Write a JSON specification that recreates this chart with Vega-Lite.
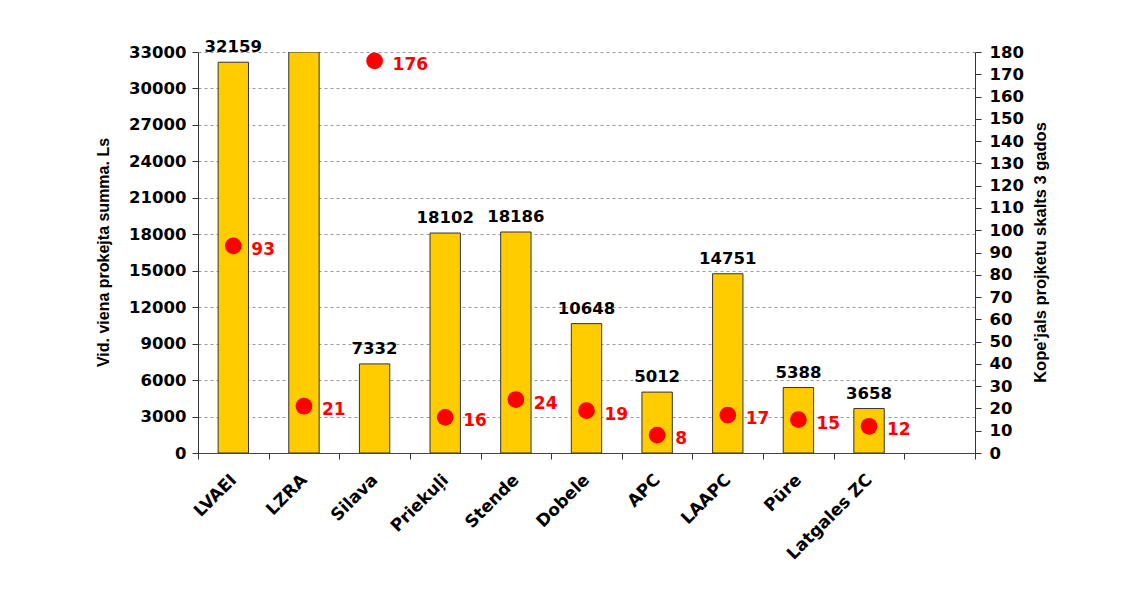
{
  "$schema": "https://vega.github.io/schema/vega-lite/v6.json",
  "width": 777,
  "height": 401,
  "autosize": {"type": "none"},
  "padding": {"left": 198, "top": 52, "right": 160, "bottom": 137},
  "background": "white",
  "config": {
    "font": "DejaVu Sans",
    "view": {"stroke": null},
    "axis": {
      "labelFont": "DejaVu Sans",
      "titleFont": "Liberation Sans",
      "labelFontWeight": "bold",
      "titleFontWeight": "bold",
      "labelColor": "black",
      "titleColor": "black",
      "domainColor": "#333",
      "tickColor": "#333",
      "labelFontSize": 16.5,
      "titleFontSize": 16,
      "labelOverlap": false
    }
  },
  "data": {
    "values": [
      {"name": "LVAEI", "summa": 32159, "skaits": 93},
      {"name": "LZRA", "summa": 33000, "skaits": 21},
      {"name": "Silava", "summa": 7332, "skaits": 176},
      {"name": "Priekuļi", "summa": 18102, "skaits": 16},
      {"name": "Stende", "summa": 18186, "skaits": 24},
      {"name": "Dobele", "summa": 10648, "skaits": 19},
      {"name": "APC", "summa": 5012, "skaits": 8},
      {"name": "LAAPC", "summa": 14751, "skaits": 17},
      {"name": "Pūre", "summa": 5388, "skaits": 15},
      {"name": "Latgales ZC", "summa": 3658, "skaits": 12}
    ]
  },
  "encoding": {
    "x": {
      "field": "name",
      "type": "nominal",
      "scale": {
        "domain": ["LVAEI", "LZRA", "Silava", "Priekuļi", "Stende", "Dobele", "APC", "LAAPC", "Pūre", "Latgales ZC", " "],
        "paddingInner": 0,
        "paddingOuter": 0
      },
      "axis": {
        "title": null,
        "labelAngle": -45,
        "labelAlign": "right",
        "labelBaseline": "middle",
        "labelPadding": 18,
        "labelFontSize": 17,
        "tickBand": "extent",
        "tickSize": 6,
        "domainColor": "#444"
      }
    }
  },
  "layer": [
    {
      "encoding": {
        "y": {
          "field": "summa",
          "type": "quantitative",
          "scale": {"domain": [0, 33000], "nice": false},
          "axis": {
            "title": "Vid. viena prokejta summa. Ls",
            "titleAngle": 270,
            "titleX": -95,
            "titleY": 200,
            "titleAlign": "center",
            "titleBaseline": "middle",
            "values": [0, 3000, 6000, 9000, 12000, 15000, 18000, 21000, 24000, 27000, 30000, 33000],
            "format": "d",
            "grid": true,
            "gridDash": [3, 3],
            "gridColor": "#999",
            "tickSize": 6,
            "labelPadding": 6
          }
        }
      },
      "layer": [
        {
          "mark": {"type": "bar", "color": "#FFCC00", "stroke": "#333", "strokeWidth": 1, "width": {"band": 0.43}, "clip": true}
        },
        {
          "transform": [{"filter": "datum.summa < 33000"}],
          "mark": {"type": "text", "baseline": "bottom", "dy": -7, "fontSize": 16.5, "fontWeight": "bold", "color": "black"},
          "encoding": {
            "text": {"field": "summa", "type": "quantitative", "format": "d"}
          }
        }
      ]
    },
    {
      "encoding": {
        "y": {
          "field": "skaits",
          "type": "quantitative",
          "scale": {"domain": [0, 180], "nice": false},
          "axis": {
            "orient": "right",
            "title": "Kope'jals projketu skalts 3 gados",
            "titleAngle": 270,
            "titleX": 65,
            "titleY": 200,
            "titleAlign": "center",
            "titleBaseline": "middle",
            "titleFontSize": 16.5,
            "values": [0, 10, 20, 30, 40, 50, 60, 70, 80, 90, 100, 110, 120, 130, 140, 150, 160, 170, 180],
            "grid": false,
            "tickSize": 6,
            "labelPadding": 8
          }
        }
      },
      "layer": [
        {
          "mark": {"type": "circle", "color": "#FF0000", "opacity": 1, "size": 280}
        },
        {
          "mark": {"type": "text", "align": "left", "baseline": "middle", "dx": 18, "dy": 4, "fontSize": 17, "fontWeight": "bold", "color": "#FF0000"},
          "encoding": {
            "text": {"field": "skaits", "type": "quantitative"}
          }
        }
      ]
    }
  ],
  "resolve": {"scale": {"y": "independent"}}
}
